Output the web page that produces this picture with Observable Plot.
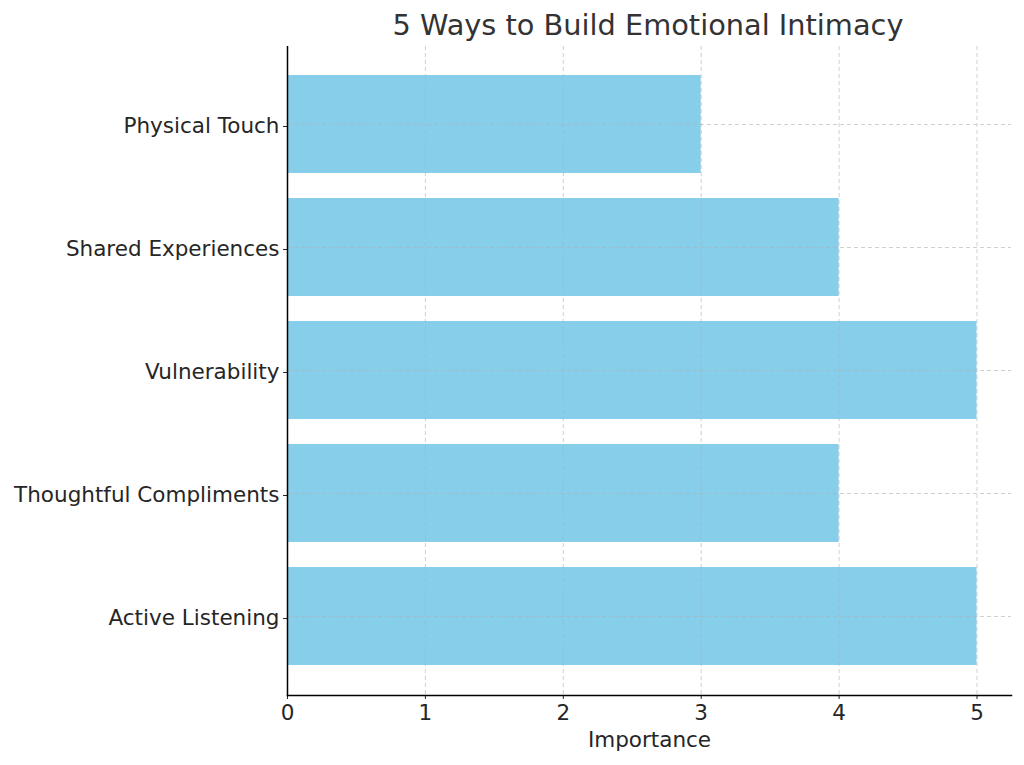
<!DOCTYPE html>
<html>
<head>
<meta charset="utf-8">
<script src="https://cdn.jsdelivr.net/npm/d3@7"></script>
<script src="https://cdn.jsdelivr.net/npm/@observablehq/plot@0.6"></script>
<style>
  body { margin: 0; background: #fff; font-family: "DejaVu Sans", sans-serif; }
  #title { height: 46px; width: 1024px; position: relative; }
  #title span { position: absolute; left: 0; width: 1296px; text-align: center; top: 8px; font-size: 28.8px; color: #333; white-space: nowrap; }
</style>
</head>
<body>
<div id="title"><span>5 Ways to Build Emotional Intimacy</span></div>
<div id="chart"></div>
<script>
const categories = ["Active Listening", "Thoughtful Compliments", "Vulnerability", "Shared Experiences", "Physical Touch"];
const importance = [5, 4, 5, 4, 3];
const xTicks = [0, 1, 2, 3, 4, 5];

const data = categories.map((c, i) => ({category: c, value: importance[i]}));
const order = categories.slice().reverse();

const chart = Plot.plot({
  width: 1024,
  height: 719,
  marginLeft: 287,
  marginRight: 13,
  marginTop: 0,
  marginBottom: 70,
  style: {fontFamily: "DejaVu Sans, sans-serif", fontSize: "21.5px", color: "#262626", background: "#fff"},
  x: {domain: [0, 5.25], label: null},
  y: {domain: order, paddingInner: 0.2, paddingOuter: 0.238, label: null},
  marks: [
    Plot.barX(data, {x: "value", y: "category", fill: "#87ceeb"}),
    Plot.ruleX(xTicks, {stroke: "#b0b0b0", strokeOpacity: 0.6, strokeDasharray: "4,3"}),
    Plot.ruleY(order, {y: d => d, stroke: "#b0b0b0", strokeOpacity: 0.6, strokeDasharray: "4,3"}),
    Plot.axisX({ticks: xTicks, tickFormat: "d", tickSize: 4, tickPadding: 5, label: null, fontSize: 21.5}),
    Plot.text(["Importance"], {frameAnchor: "bottom", dy: 45, fontSize: 21.5, fill: "#262626", lineAnchor: "middle"}),
    Plot.axisY({tickSize: 4, tickPadding: 4, label: null, fontSize: 21.5, dy: 2}),
    Plot.frame({anchor: "left", stroke: "#000", strokeWidth: 1.5}),
    Plot.frame({anchor: "bottom", stroke: "#000", strokeWidth: 1.5})
  ]
});
document.getElementById("chart").appendChild(chart);
</script>
</body>
</html>
